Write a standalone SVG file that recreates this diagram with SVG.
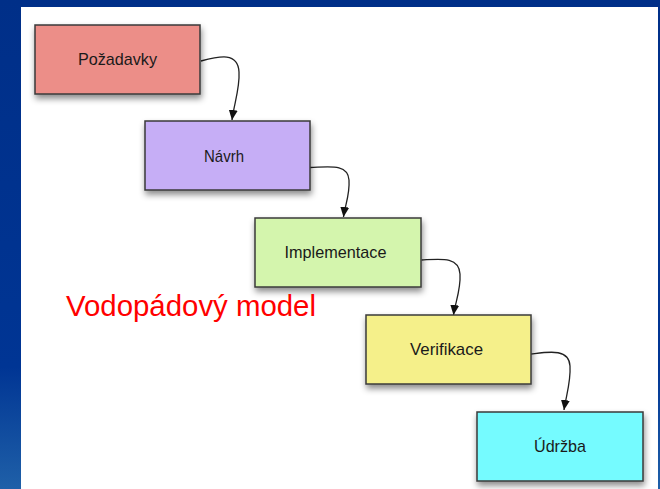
<svg xmlns="http://www.w3.org/2000/svg" width="660" height="489" viewBox="0 0 660 489">
<defs>
<linearGradient id="bg" x1="0" y1="0" x2="0" y2="1">
<stop offset="0" stop-color="#002f88"/>
<stop offset="0.75" stop-color="#003594"/>
<stop offset="1" stop-color="#1f60a8"/>
</linearGradient>
<filter id="sh" x="-20%" y="-20%" width="150%" height="160%">
<feDropShadow dx="1" dy="4" stdDeviation="3" flood-color="#000" flood-opacity="0.45"/>
</filter>
<marker id="ah" markerUnits="userSpaceOnUse" markerWidth="10" markerHeight="9" refX="10" refY="4.5" orient="auto" viewBox="0 0 10 9">
<path d="M0,0 L10,4.5 L0,9 z" fill="#111"/>
</marker>
<style>
.box{stroke:#3a3a3a;stroke-width:1.5;filter:url(#sh)}
.lbl{font-family:"Liberation Sans",Arial,sans-serif;font-size:17px;fill:#1a1a1a;text-anchor:middle}
.con{fill:none;stroke:#222;stroke-width:1.3;marker-end:url(#ah)}
</style>
</defs>
<rect x="0" y="0" width="660" height="489" fill="url(#bg)"/>
<rect x="21" y="7" width="637" height="482" fill="#ffffff"/>
<g id="connectors">
<path class="con" d="M201,61 C220,56 238,52 239,72 C240,88 234,104 232,120"/>
<path class="con" d="M310,167.5 C328,167 348,163 349,180 C350,195 345,205 343.5,217"/>
<path class="con" d="M421.5,260 C440,259 459,256 460,274 C461,290 455,303 453.5,315"/>
<path class="con" d="M531,354 C548,352 569,348 570,366 C571,382 566,396 564,410"/>
</g>
<g id="pozadavky">
<rect class="box" x="35" y="25" width="165" height="69" fill="#ec8e88"/>
<text class="lbl" x="117.5" y="65" textLength="79" lengthAdjust="spacingAndGlyphs">Požadavky</text>
</g>
<g id="navrh">
<rect class="box" x="145" y="121" width="165" height="69" fill="#c6aef6"/>
<text class="lbl" x="224" y="161.5" textLength="40" lengthAdjust="spacingAndGlyphs">Návrh</text>
</g>
<g id="implementace">
<rect class="box" x="255" y="218" width="166" height="69" fill="#d4f5ad"/>
<text class="lbl" x="335.5" y="258" textLength="102" lengthAdjust="spacingAndGlyphs">Implementace</text>
</g>
<g id="verifikace">
<rect class="box" x="366" y="315" width="165" height="69" fill="#f5f08a"/>
<text class="lbl" x="446.5" y="355" textLength="73" lengthAdjust="spacingAndGlyphs">Verifikace</text>
</g>
<g id="udrzba">
<rect class="box" x="477" y="412" width="166" height="69" fill="#74fbff"/>
<text class="lbl" x="560" y="452" textLength="52" lengthAdjust="spacingAndGlyphs">Údržba</text>
</g>
<text x="66" y="316" font-family="Liberation Sans, Arial, sans-serif" font-size="29" fill="#ff0000" textLength="250" lengthAdjust="spacingAndGlyphs">Vodopádový model</text>
</svg>
